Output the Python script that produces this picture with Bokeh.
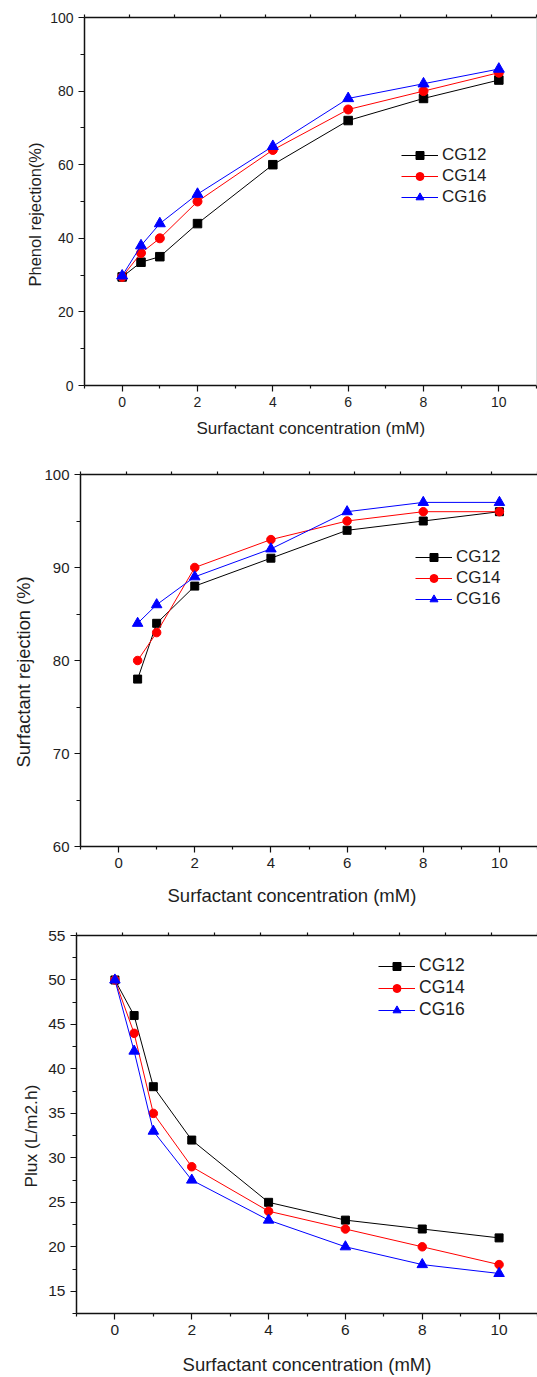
from bokeh.plotting import figure
from bokeh.models import (FixedTicker, LinearAxis, Range1d, Legend, LegendItem, Span, Title)
from bokeh.embed import file_html
from bokeh.resources import INLINE

# ---------------- data ----------------
series_names = ["CG12", "CG14", "CG16"]

x_phenol = [0, 0.5, 1, 2, 4, 6, 8, 10]
phenol_cg12 = [29.5, 33.5, 35, 44, 60, 72, 78, 83]
phenol_cg14 = [29.5, 36, 40, 50, 64, 75, 80, 85]
phenol_cg16 = [29.8, 38, 44, 52, 65, 78, 82, 86]

x_surf = [0.5, 1, 2, 4, 6, 8, 10]
surf_cg12 = [78, 84, 88, 91, 94, 95, 96]
surf_cg14 = [80, 83, 90, 93, 95, 96, 96]
surf_cg16 = [84, 86, 89, 92, 96, 97, 97]

x_flux = [0, 0.5, 1, 2, 4, 6, 8, 10]
flux_cg12 = [50, 46, 38, 32, 25, 23, 22, 21]
flux_cg14 = [50, 44, 35, 29, 24, 22, 20, 18]
flux_cg16 = [50, 42, 33, 27.5, 23, 20, 18, 17]

x_major = [0, 2, 4, 6, 8, 10]
x_minor = [-1, 1, 3, 5, 7, 9, 11]

x_title = "Surfactant concentration (mM)"

FONT = "Liberation Sans"
TXT = "#1e1e1e"
colors = ["#000000", "#ff0000", "#0000ff"]
markers = ["square", "circle", "triangle"]


def make_panel(xs, ys_list, y_range, y_major, y_minor, y_title, dims, fonts,
               xt, yt, legend_pos, msizes, right_spine=False):
    width, height, mb_left, mb_top, mb_bottom, mb_right = dims
    tick_fs, xt_fs, yt_fs, legend_fs = fonts
    p = figure(width=width, height=height, output_backend="svg", toolbar_location=None,
               x_range=Range1d(-1, 11), y_range=Range1d(*y_range),
               min_border_left=mb_left, min_border_top=mb_top,
               min_border_bottom=mb_bottom, min_border_right=mb_right,
               x_axis_location=None, y_axis_location=None)
    p.outline_line_color = None
    p.grid.visible = False
    p.background_fill_color = "white"
    p.border_fill_color = "white"

    xa = LinearAxis(ticker=FixedTicker(ticks=x_major, minor_ticks=x_minor))
    ya = LinearAxis(ticker=FixedTicker(ticks=y_major, minor_ticks=y_minor))
    for ax in (xa, ya):
        ax.major_label_text_font = FONT
        ax.major_label_text_font_size = tick_fs
        ax.major_label_text_color = TXT
        ax.major_label_standoff = 5
        ax.axis_line_color = "#111111"
        ax.axis_line_width = 1.5
        ax.major_tick_line_color = "#111111"
        ax.major_tick_line_width = 1.2
        ax.minor_tick_line_color = "#111111"
        ax.minor_tick_line_width = 1.2
        ax.major_tick_in = 0
        ax.major_tick_out = 6
        ax.minor_tick_in = 0
    xa.minor_tick_out = 3
    ya.minor_tick_out = 4
    p.add_layout(xa, "below")
    p.add_layout(ya, "left")

    p.extra_x_ranges = {"top": Range1d(0, 10)}
    ta = LinearAxis(x_range_name="top", ticker=FixedTicker(ticks=list(range(11)), minor_ticks=[]))
    ta.major_label_text_font_size = "0px"
    ta.major_label_text_alpha = 0
    ta.major_label_standoff = 0
    ta.major_tick_in = 0
    ta.major_tick_out = 3
    ta.major_tick_line_width = 1.2
    ta.major_tick_line_color = "#111111"
    ta.axis_line_color = "#111111"
    ta.axis_line_width = 1.5
    p.add_layout(ta, "above")

    if right_spine:
        p.add_layout(Span(location=11, dimension="height", line_color="#b4b4b4", line_width=1))

    # x title: either a left-aligned Title (offset, standoff) or a centred axis label
    if xt[0] is None:
        xa.axis_label = x_title
        xa.axis_label_standoff = xt[1]
        xa.axis_label_text_font = FONT
        xa.axis_label_text_font_size = xt_fs
        xa.axis_label_text_font_style = "normal"
        xa.axis_label_text_color = TXT
    else:
        p.add_layout(Title(text=x_title, align="left", offset=xt[0], standoff=xt[1],
                           text_font=FONT, text_font_size=xt_fs, text_font_style="normal",
                           text_color=TXT), "below")
    p.add_layout(Title(text=y_title, align="left", offset=yt[0], standoff=yt[1],
                       text_font=FONT, text_font_size=yt_fs, text_font_style="normal",
                       text_color=TXT), "left")

    items = []
    for name, ys, c, m, ms in zip(series_names, ys_list, colors, markers, msizes):
        lr = p.line(xs, ys, line_color=c, line_width=1)
        sr = p.scatter(xs, ys, marker=m, size=ms, fill_color=c, line_color=c)
        items.append(LegendItem(label=name, renderers=[lr, sr]))
    lg = Legend(items=items, location=legend_pos, padding=0, margin=0,
                border_line_color=None, background_fill_alpha=0,
                glyph_width=37, glyph_height=20, label_height=20, spacing=1,
                label_standoff=4, label_text_font=FONT, label_text_font_size=legend_fs,
                label_text_color=TXT)
    p.add_layout(lg, "center")
    return p


p1 = make_panel(x_phenol, [phenol_cg12, phenol_cg14, phenol_cg16], (0, 100),
                [0, 20, 40, 60, 80, 100], [10, 30, 50, 70, 90], "Phenol rejection(%)",
                (537, 455, 84, 17, 70, 1), ("14px", "17px", "16.5px", "17px"),
                (112, 14), (99, 8),
                (317, 178), [8.5, 9, 11], right_spine=True)
p2 = make_panel(x_surf, [surf_cg12, surf_cg14, surf_cg16], (60, 100),
                [60, 70, 80, 90, 100], [65, 75, 85, 95], "Surfactant rejection (%)",
                (537, 466, 80, 19, 75, 0), ("15px", "18.5px", "18.3px", "17px"),
                (87, 24), (79, 16),
                (335, 237), [8, 8.5, 10.5])
p3 = make_panel(x_flux, [flux_cg12, flux_cg14, flux_cg16], (12.5, 55),
                [15, 20, 25, 30, 35, 40, 45, 50, 55], [12.5, 17.5, 22.5, 27.5, 32.5, 37.5, 42.5, 47.5, 52.5],
                "Plux (L/m2.h)",
                (537, 456, 76, 14, 62, 0), ("15.5px", "18.5px", "17.3px", "17.5px"),
                (None, 16), (126, 10),
                (302, 293), [8, 8.5, 10.5])

# separate roots, stacked as blocks (a column layout would align the three frames)
open("out.html", "w").write(file_html([p1, p2, p3], INLINE))
